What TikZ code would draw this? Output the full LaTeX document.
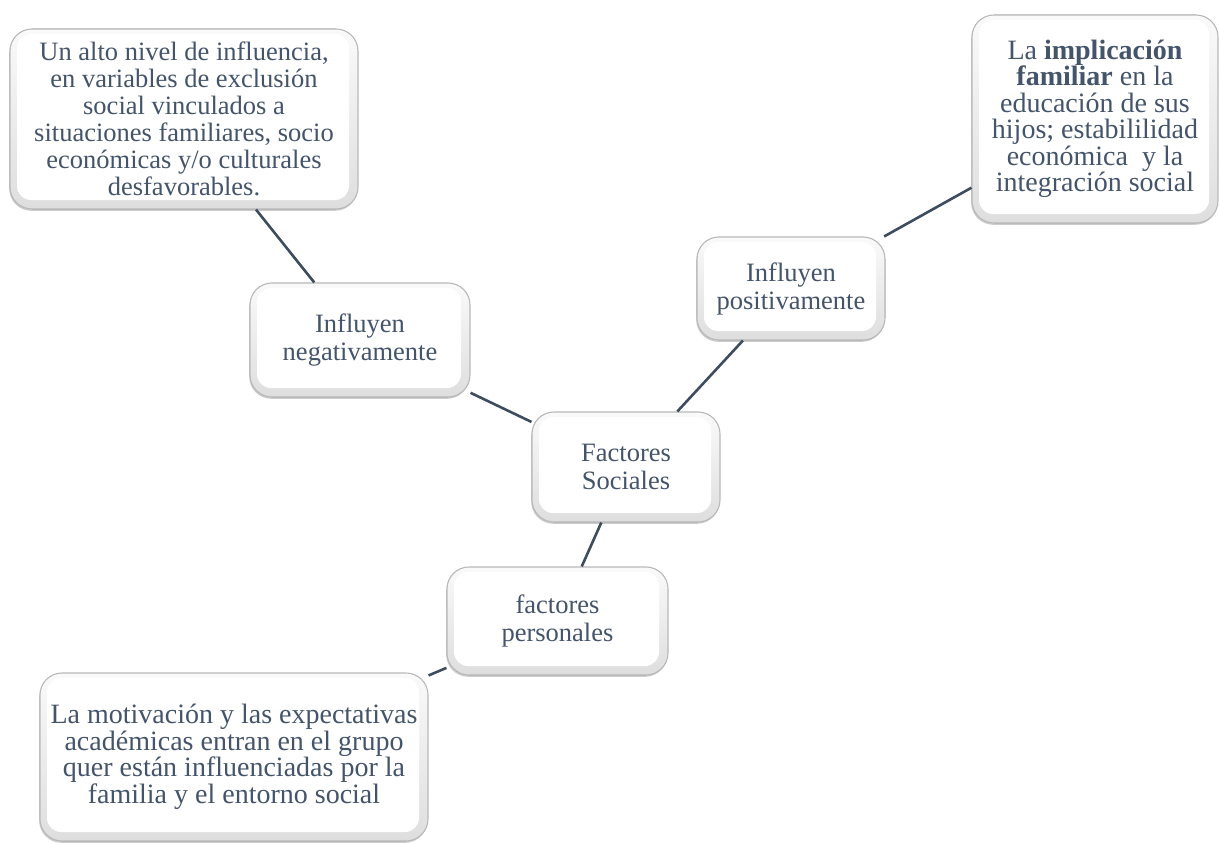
\documentclass[tikz,border=0pt]{standalone}
\usepackage{fontspec}
\setmainfont{Liberation Serif}
\usetikzlibrary{shadows}
\definecolor{txt}{HTML}{44546A}
\definecolor{lnk}{HTML}{3E4C60}
\tikzset{
  box/.style={rounded corners=22pt, draw=gray!55, line width=1.1pt, text=txt, align=center, inner sep=0pt,
    drop shadow={shadow xshift=-0.8pt, shadow yshift=-1.8pt, opacity=0.4},
    path picture={
      \fill[top color=gray!4, bottom color=gray!26] (path picture bounding box.south west) rectangle (path picture bounding box.north east);
      \fill[white, rounded corners=14pt] ([shift={(7pt,9pt)}]path picture bounding box.south west) rectangle ([shift={(-9pt,-5pt)}]path picture bounding box.north east);
    }},
  link/.style={draw=lnk, line width=2.6pt},
  fa/.style={font=\fontsize{26.5pt}{28pt}\selectfont},
  fb/.style={font=\fontsize{26.5pt}{27pt}\selectfont},
  fc/.style={font=\fontsize{28pt}{26.5pt}\selectfont},
}
\begin{document}
\begin{tikzpicture}[x=1pt,y=-1pt]
\useasboundingbox (0,0) rectangle (1219,843);
\node[box, fb, minimum width=348pt, minimum height=180pt] (b1) at (184,119)
  {Un alto nivel de influencia,\\ en variables de exclusión\\ social vinculados a\\ situaciones familiares, socio\\ económicas y/o culturales\\ desfavorables.};
\node[box, fc, minimum width=246pt, minimum height=208pt] (b2) at (1095,119)
  {La \textbf{implicación}\\ \textbf{familiar} en la\\ educación de sus\\ hijos; estabililidad\\ económica\ \ y la\\ integración social};
\node[box, fa, minimum width=188pt, minimum height=103pt] (pos) at (791,288.5)
  {Influyen\\ positivamente};
\node[box, fa, minimum width=220pt, minimum height=114pt] (neg) at (360,340)
  {Influyen\\ negativamente};
\node[box, fa, minimum width=188pt, minimum height=110pt] (fs) at (626,467)
  {Factores\\ Sociales};
\node[box, fa, minimum width=221pt, minimum height=108pt] (fp) at (557.5,621)
  {factores\\ personales};
\node[box, fc, minimum width=388pt, minimum height=168pt] (b3) at (234,757)
  {La motivación y las expectativas\\ académicas entran en el grupo\\ quer están influenciadas por la\\ familia y el entorno social};
\draw[link] (b1) -- (neg);
\draw[link] (neg) -- (fs);
\draw[link] (fs) -- (pos);
\draw[link] (pos) -- (b2);
\draw[link] (fs) -- (fp);
\draw[link] (fp) -- (b3);
\end{tikzpicture}
\end{document}
